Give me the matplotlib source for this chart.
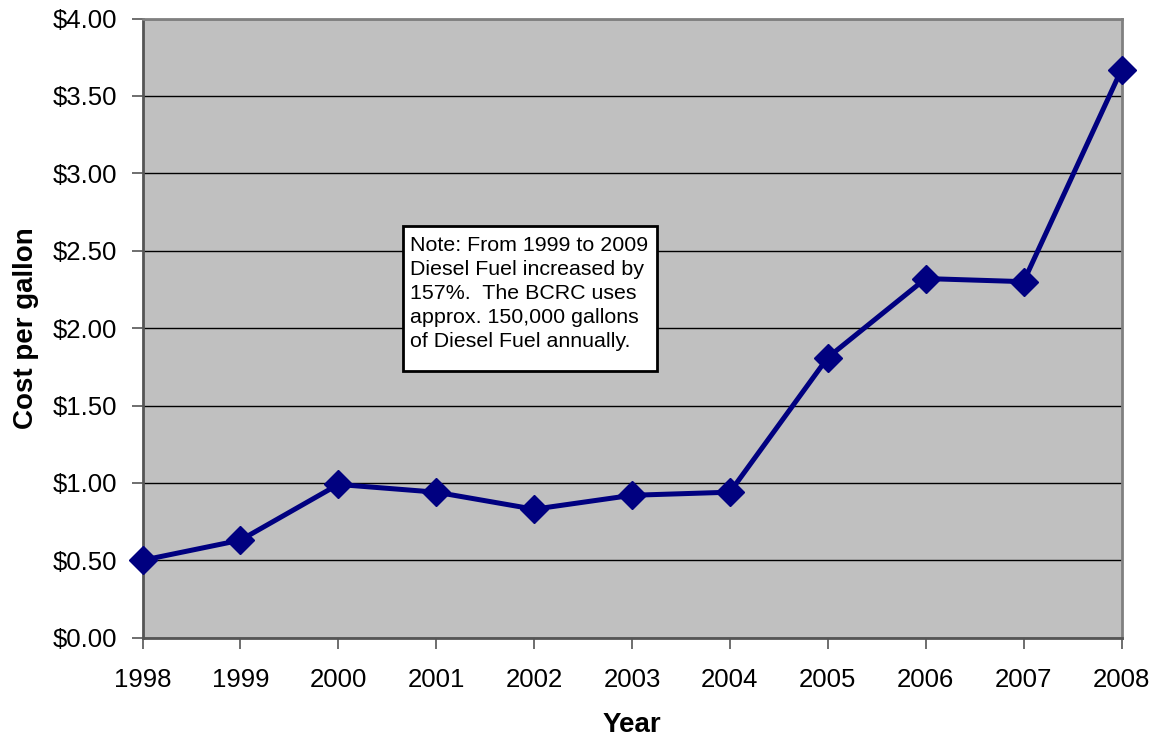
import matplotlib
matplotlib.use("Agg")
import matplotlib.pyplot as plt
from matplotlib.ticker import FuncFormatter
from matplotlib.patches import Rectangle

plt.rcParams['font.family'] = ['Liberation Sans', 'DejaVu Sans']

years = ["1998", "1999", "2000", "2001", "2002", "2003", "2004", "2005", "2006", "2007", "2008"]
cost = [0.50, 0.63, 0.99, 0.94, 0.83, 0.92, 0.94, 1.81, 2.32, 2.30, 3.67]
y_ticks = [0.0, 0.5, 1.0, 1.5, 2.0, 2.5, 3.0, 3.5, 4.0]
note = ("Note: From 1999 to 2009\nDiesel Fuel increased by\n157%.  The BCRC uses\n"
        "approx. 150,000 gallons\nof Diesel Fuel annually.")

W, H = 1159, 742
fig = plt.figure(figsize=(W / 100, H / 100), dpi=100)
left, right, top, bottom = 142.5, 1121.5, 18.5, 637.7
ax = fig.add_axes([left / W, 1 - bottom / H, (right - left) / W, (bottom - top) / H])
ax.set_facecolor('#c0c0c0')

x = list(range(len(years)))
ax.plot(x, cost, color='#000080', lw=3.6, marker='D', ms=14, clip_on=False, zorder=5)

ax.set_xlim(0, len(years) - 1)
ax.set_ylim(0, 4)
ax.set_xticks(x)
ax.set_xticklabels(years)
ax.set_yticks(y_ticks)
ax.yaxis.set_major_formatter(FuncFormatter(lambda v, p: f"${v:.2f}"))
ax.grid(axis='y', color='black', lw=1.0)
ax.set_axisbelow(True)

for s in ['top', 'right']:
    ax.spines[s].set_color('#808080')
    ax.spines[s].set_linewidth(2)
for s in ['left', 'bottom']:
    ax.spines[s].set_color('#555555')
    ax.spines[s].set_linewidth(2)

ax.tick_params(axis='both', labelsize=18.5, length=8, width=1.2, color='#555555', direction='out')
ax.tick_params(axis='y', pad=10)
ax.tick_params(axis='x', pad=14)

ax.set_ylabel("Cost per gallon", fontsize=20, fontweight='bold', labelpad=10)
ax.set_xlabel("Year", fontsize=20, fontweight='bold', labelpad=14)

# note box
bx0, by0, bx1, by1 = 403, 226, 657, 371
fig.patches.append(Rectangle((bx0 / W, 1 - by1 / H), (bx1 - bx0) / W, (by1 - by0) / H,
                             transform=fig.transFigure, fc='white', ec='black', lw=2, zorder=10))
fig.text(410.5 / W, 1 - 236 / H, note, fontsize=15.4, va='top', ha='left', linespacing=1.33,
         zorder=11)

fig.savefig("out.png", dpi=100)
